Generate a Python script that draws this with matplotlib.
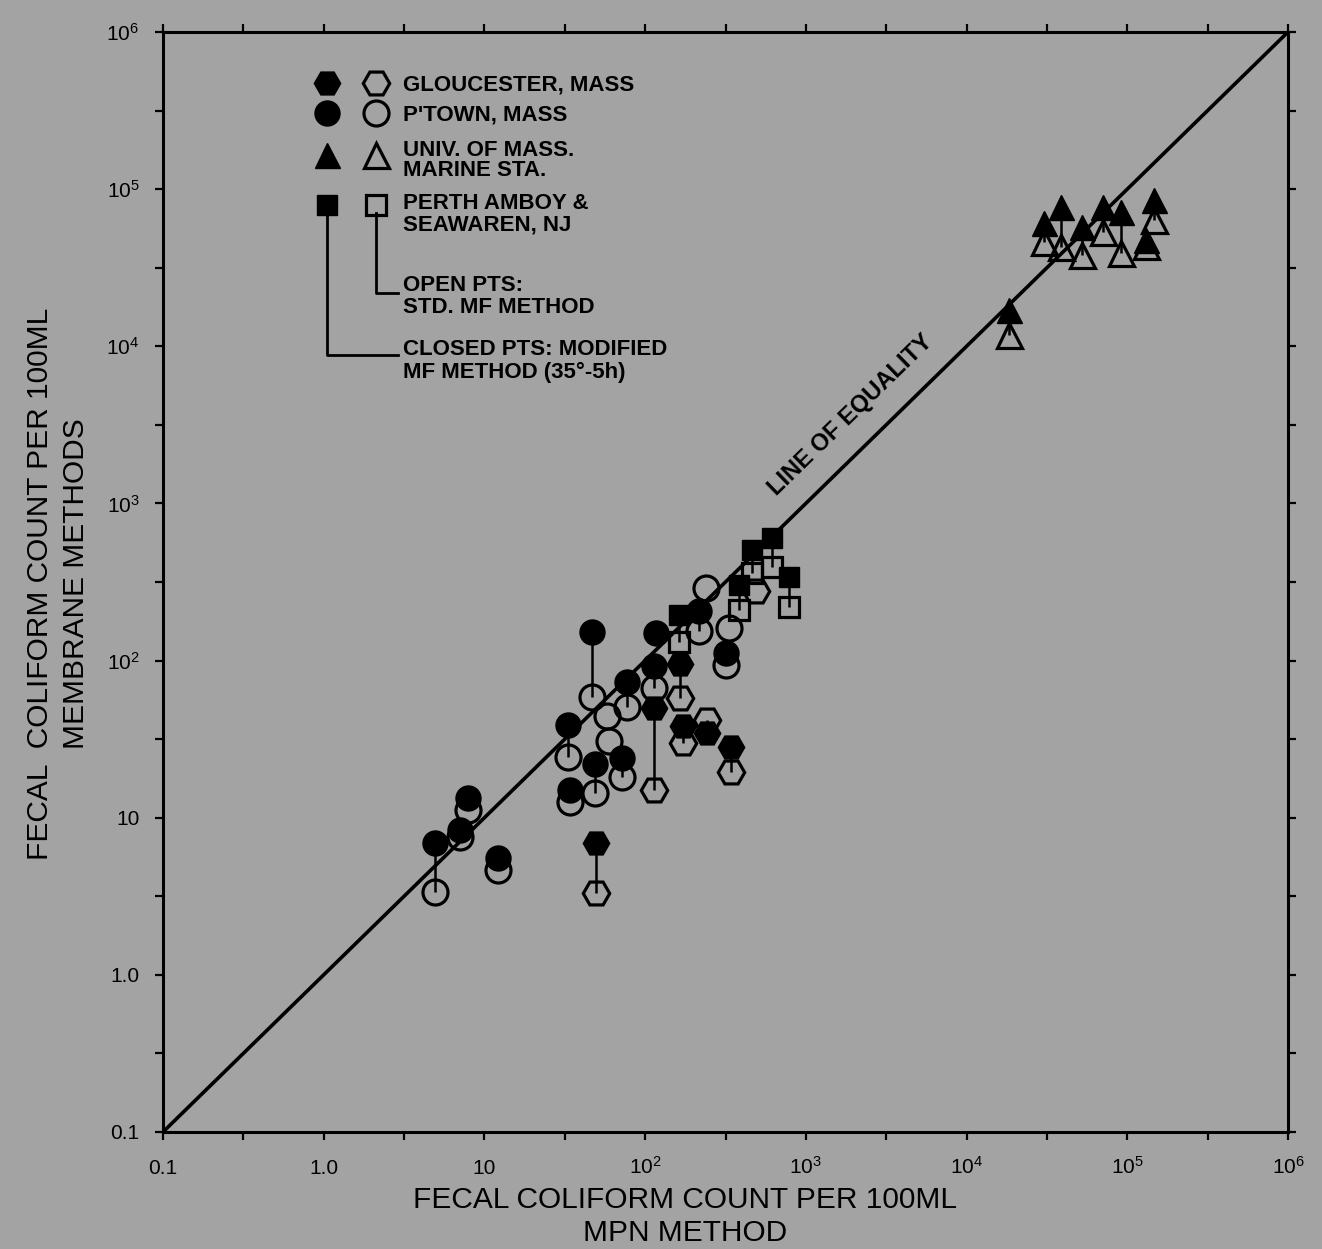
import numpy as np
import matplotlib
matplotlib.use('Agg')
import matplotlib.pyplot as plt
from matplotlib.ticker import FixedLocator, FixedFormatter, NullFormatter

plt.rcParams['font.family'] = ['Liberation Sans', 'DejaVu Sans']
plt.rcParams['mathtext.fontset'] = 'custom'
plt.rcParams['mathtext.rm'] = 'Liberation Sans'
plt.rcParams['mathtext.it'] = 'Liberation Sans:italic'
plt.rcParams['mathtext.bf'] = 'Liberation Sans:bold'

BG = '#a3a3a3'
nan = np.nan

"(1) data: MPN count (x), modified MF (closed pts), standard MF (open pts)"
# Gloucester, Mass - hexagons
glou_mpn    = [49.8, 114, 165, 172, 244, 344, 492]
glou_closed = [6.9, 50, 95, 38.4, 34.7, 28.2, nan]
glou_open   = [3.32, 15.0, 58, 29.9, 42, 19.6, 278]

# P'town, Mass - circles
ptown_mpn    = [4.9, 7.0, 7.9, 12.2, 32.9, 33.9, 47, 48.4, 57.5, 60,
                71.3, 77.6, 116, 113, 217, 240, 320, 334]
ptown_closed = [6.9, 8.4, 13.4, 5.5, 39, 15.0, 152, 22.0, nan, nan,
                24.0, 73, 150, 92.5, 207, nan, 112, nan]
ptown_open   = [3.37, 7.5, 11.2, 4.65, 24.4, 12.6, 58.7, 14.4, 44.5, 30.8,
                18.2, 50.7, nan, 67, 155, 290, 94, 161]

# Univ. of Mass. Marine Sta. - triangles
umass_mpn    = [18400, 30300, 38600, 52200, 70500, 91200, 130600, 146000]
umass_closed = [17100, 61100, 77300, 57700, 77300, 71800, 47600, 85700]
umass_open   = [11800, 46300, 43000, 38200, 53600, 39400, 43600, 63800]

# Perth Amboy & Seawaren, NJ - squares
perth_mpn    = [163, 385, 464, 618, 788]
perth_closed = [195, 303, 507, 604, 341]
perth_open   = [132, 210, 361, 395, 220]

decades      = [0.1, 1, 10, 1e2, 1e3, 1e4, 1e5, 1e6]
x_ticklabels = ['0.1', '1.0', '10', '10$^2$', '10$^3$', '10$^4$', '10$^5$', '10$^6$']
y_ticklabels = ['0.1', '1.0', '10', '10$^2$', '10$^3$', '10$^4$', '10$^5$', '10$^6$']

"(2) figure"
fig = plt.figure(figsize=(13.22, 12.49), dpi=100, facecolor=BG)
ax = fig.add_axes([0.1233, 0.0937, 0.8510, 0.8807], facecolor=BG)
ax.set_xscale('log')
ax.set_yscale('log')
ax.set_xlim(0.1, 1e6)
ax.set_ylim(0.1, 1e6)

# line of equality
ax.plot([0.1, 1e6], [0.1, 1e6], color='k', lw=2.6, zorder=2, solid_capstyle='butt')
ax.text(2030, 3400, 'LINE OF EQUALITY', rotation=44.3, rotation_mode='anchor',
        ha='center', va='baseline', fontsize=17, fontweight='bold')

sites = [
    (glou_mpn, glou_closed, glou_open, 'H', 19),
    (ptown_mpn, ptown_closed, ptown_open, 'o', 18),
    (umass_mpn, umass_closed, umass_open, '^', 18),
    (perth_mpn, perth_closed, perth_open, 's', 14.5),
]

# stems between paired points
for x, c, o, m, ms in sites:
    x, c, o = np.array(x, float), np.array(c, float), np.array(o, float)
    ok = ~np.isnan(c) & ~np.isnan(o)
    ax.vlines(x[ok], o[ok], c[ok], color='k', lw=1.8, zorder=3)

# open points: std MF method
for x, c, o, m, ms in sites:
    ax.plot(x, o, ls='none', marker=m, ms=ms, mfc='none', mec='k', mew=2.3, zorder=4)

# closed points: modified MF method
for x, c, o, m, ms in sites:
    ax.plot(x, c, ls='none', marker=m, ms=ms, mfc='k', mec='k', mew=1, zorder=5)

"(3) axes styling"
ax.xaxis.set_major_locator(FixedLocator(decades))
ax.yaxis.set_major_locator(FixedLocator(decades))
half = [10 ** (k + 0.5) for k in range(-1, 6)]
ax.xaxis.set_minor_locator(FixedLocator(half))
ax.yaxis.set_minor_locator(FixedLocator(half))
ax.xaxis.set_major_formatter(FixedFormatter(x_ticklabels))
ax.yaxis.set_major_formatter(FixedFormatter(y_ticklabels))
ax.xaxis.set_minor_formatter(NullFormatter())
ax.yaxis.set_minor_formatter(NullFormatter())
ax.tick_params(which='both', direction='out', length=6, width=1.6,
               top=True, right=True, labelsize=15)
ax.tick_params(axis='x', which='major', pad=24)
ax.tick_params(axis='y', which='major', pad=11)
for lbl in ax.get_xticklabels():
    lbl.set_verticalalignment('baseline')
for sp in ax.spines.values():
    sp.set_linewidth(2.2)

"(4) legend, drawn by hand"
tr = ax.transAxes
xf, xo, xt = 0.1456, 0.1892, 0.2131
leg_rows = [(0.9536, 'H', 19), (0.9264, 'o', 18), (0.8882, '^', 18), (0.8427, 's', 14.5)]
for yy, m, ms in leg_rows:
    ax.plot([xf], [yy], transform=tr, marker=m, ms=ms, mfc='k', mec='k', ls='none', clip_on=False, zorder=6)
    ax.plot([xo], [yy], transform=tr, marker=m, ms=ms, mfc='none', mec='k', mew=2.3, ls='none', clip_on=False, zorder=6)

leg_lines = [(0.9464, 'GLOUCESTER, MASS'), (0.9191, "P'TOWN, MASS"),
             (0.8873, 'UNIV. OF MASS.'), (0.8691, 'MARINE STA.'),
             (0.8391, 'PERTH AMBOY &'), (0.8191, 'SEAWAREN, NJ'),
             (0.7645, 'OPEN PTS:'), (0.7445, 'STD. MF METHOD'),
             (0.7064, 'CLOSED PTS: MODIFIED'), (0.6855, 'MF METHOD (35°-5h)')]
for yy, s in leg_lines:
    ax.text(xt, yy, s, transform=tr, ha='left', va='baseline', fontsize=16, fontweight='bold')

ax.plot([xo, xo, 0.2087], [0.8355, 0.7627, 0.7627], transform=tr, color='k', lw=2)
ax.plot([xf, xf, 0.2087], [0.8355, 0.7064, 0.7064], transform=tr, color='k', lw=2)

"(5) axis titles"
fig.text(40 / 1322, 1 - 584 / 1249, 'FECAL  COLIFORM COUNT PER 100ML', rotation=90,
         ha='center', va='center', fontsize=21.5)
fig.text(76 / 1322, 1 - 584 / 1249, 'MEMBRANE METHODS', rotation=90,
         ha='center', va='center', fontsize=21.5)
fig.text(685 / 1322, 1 - 1200 / 1249, 'FECAL COLIFORM COUNT PER 100ML',
         ha='center', va='center', fontsize=21.5)
fig.text(685 / 1322, 1 - 1233 / 1249, 'MPN METHOD',
         ha='center', va='center', fontsize=21.5)

fig.savefig('out.png', dpi=100, facecolor=BG)
